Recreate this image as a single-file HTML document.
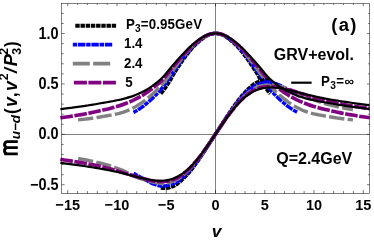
<!DOCTYPE html><html><head><meta charset="utf-8"><style>html,body{margin:0;padding:0;background:#fff}svg{display:block}text{font-family:"Liberation Sans",sans-serif;fill:#000}</style></head><body>
<svg width="374" height="242" viewBox="0 0 374 242">
<rect width="374" height="242" fill="#fff"/>
<g opacity="0.996" style="will-change:transform">
<g stroke="#000" stroke-width="0.5" fill="none">
<line x1="61.5" y1="134.5" x2="369.5" y2="134.5"/>
<line x1="215.5" y1="3.5" x2="215.5" y2="193.5"/>
</g>
<clipPath id="c"><rect x="59.5" y="3.5" width="310.0" height="190.0"/></clipPath>
<g clip-path="url(#c)" fill="none" stroke-linecap="butt" stroke-linejoin="round">
<path d="M160.83 93.71C161.06 93.45 161.74 92.70 162.20 92.16C162.65 91.62 163.11 91.07 163.57 90.47C164.02 89.86 164.48 89.21 164.93 88.55C165.39 87.89 165.84 87.18 166.30 86.49C166.75 85.79 167.21 85.07 167.67 84.36C168.12 83.66 168.58 82.97 169.03 82.25C169.49 81.53 169.94 80.84 170.40 80.05C170.85 79.27 171.31 78.37 171.77 77.54C172.22 76.70 172.68 75.82 173.13 75.02C173.59 74.22 174.04 73.49 174.50 72.76C174.95 72.03 175.41 71.33 175.87 70.62C176.32 69.91 176.78 69.22 177.23 68.52C177.69 67.82 178.14 67.13 178.60 66.44C179.06 65.76 179.51 65.07 179.97 64.39C180.42 63.72 180.88 63.05 181.33 62.38C181.79 61.71 182.24 61.05 182.70 60.40C183.16 59.75 183.61 59.10 184.07 58.47C184.52 57.84 184.98 57.21 185.43 56.60C185.89 55.99 186.34 55.39 186.80 54.80C187.26 54.20 187.71 53.62 188.17 53.04C188.62 52.47 189.08 51.90 189.53 51.35C189.99 50.79 190.44 50.24 190.90 49.71C191.36 49.17 191.81 48.64 192.27 48.13C192.72 47.62 193.18 47.13 193.63 46.65C194.09 46.17 194.54 45.71 195.00 45.26C195.46 44.81 195.91 44.38 196.37 43.96C196.82 43.53 197.28 43.12 197.73 42.71C198.19 42.30 198.64 41.89 199.10 41.49C199.56 41.09 200.01 40.69 200.47 40.31C200.92 39.93 201.38 39.56 201.83 39.20C202.29 38.85 202.74 38.50 203.20 38.17C203.66 37.85 204.11 37.53 204.57 37.23C205.02 36.94 205.48 36.65 205.93 36.39C206.39 36.12 206.84 35.87 207.30 35.63C207.76 35.40 208.21 35.18 208.67 34.98C209.12 34.78 209.58 34.59 210.03 34.43C210.49 34.26 210.94 34.11 211.40 33.98C211.86 33.85 212.31 33.74 212.77 33.64C213.22 33.55 213.68 33.47 214.13 33.41C214.59 33.36 215.04 33.30 215.50 33.30C215.96 33.30 216.41 33.36 216.87 33.41C217.32 33.47 217.78 33.55 218.23 33.64C218.69 33.74 219.14 33.85 219.60 33.98C220.06 34.11 220.51 34.26 220.97 34.43C221.42 34.59 221.88 34.78 222.33 34.98C222.79 35.18 223.24 35.40 223.70 35.63C224.16 35.87 224.61 36.12 225.07 36.39C225.52 36.65 225.98 36.94 226.43 37.23C226.89 37.53 227.34 37.85 227.80 38.17C228.26 38.50 228.71 38.85 229.17 39.20C229.62 39.56 230.08 39.93 230.53 40.31C230.99 40.69 231.44 41.09 231.90 41.49C232.36 41.89 232.81 42.30 233.27 42.71C233.72 43.12 234.18 43.53 234.63 43.96C235.09 44.38 235.54 44.81 236.00 45.26C236.46 45.71 236.91 46.17 237.37 46.65C237.82 47.13 238.28 47.62 238.73 48.13C239.19 48.64 239.64 49.17 240.10 49.71C240.56 50.24 241.01 50.79 241.47 51.35C241.92 51.90 242.38 52.47 242.83 53.04C243.29 53.62 243.74 54.20 244.20 54.80C244.66 55.39 245.11 55.99 245.57 56.60C246.02 57.21 246.48 57.84 246.93 58.47C247.39 59.10 247.84 59.75 248.30 60.40C248.76 61.05 249.21 61.71 249.67 62.38C250.12 63.05 250.58 63.72 251.03 64.39C251.49 65.07 251.94 65.76 252.40 66.44C252.86 67.13 253.31 67.82 253.77 68.52C254.22 69.22 254.68 69.91 255.13 70.62C255.59 71.33 256.05 72.03 256.50 72.76C256.96 73.49 257.41 74.22 257.87 75.02C258.32 75.82 258.78 76.70 259.23 77.54C259.69 78.37 260.15 79.27 260.60 80.05C261.06 80.84 261.51 81.53 261.97 82.25C262.42 82.97 262.88 83.66 263.33 84.36C263.79 85.07 264.25 85.79 264.70 86.49C265.16 87.18 265.61 87.89 266.07 88.55C266.52 89.21 266.98 89.86 267.43 90.47C267.89 91.07 268.35 91.62 268.80 92.16C269.26 92.70 269.94 93.45 270.17 93.71" stroke="#000000" stroke-width="3.6" stroke-dasharray="4.4 0.8"/>
<path d="M133.55 112.46C133.89 112.27 134.91 111.73 135.60 111.34C136.28 110.95 136.96 110.55 137.65 110.13C138.33 109.70 139.01 109.26 139.69 108.80C140.38 108.34 141.06 107.85 141.74 107.36C142.43 106.86 143.11 106.34 143.79 105.81C144.47 105.28 145.16 104.74 145.84 104.18C146.52 103.62 147.21 103.04 147.89 102.45C148.57 101.86 149.26 101.25 149.94 100.63C150.62 100.01 151.30 99.38 151.99 98.73C152.67 98.09 153.35 97.42 154.04 96.75C154.72 96.07 155.40 95.38 156.08 94.68C156.77 93.98 157.45 93.26 158.13 92.53C158.82 91.80 159.50 91.05 160.18 90.29C160.87 89.53 161.55 88.80 162.23 87.97C162.91 87.15 163.60 86.28 164.28 85.34C164.96 84.40 165.65 83.34 166.33 82.33C167.01 81.31 167.69 80.27 168.38 79.25C169.06 78.24 169.74 77.27 170.43 76.25C171.11 75.24 171.79 74.18 172.48 73.16C173.16 72.14 173.84 71.12 174.52 70.14C175.21 69.16 175.89 68.22 176.57 67.26C177.26 66.30 177.94 65.33 178.62 64.37C179.30 63.41 179.99 62.44 180.67 61.49C181.35 60.54 182.04 59.58 182.72 58.66C183.40 57.73 184.09 56.81 184.77 55.92C185.45 55.03 186.13 54.18 186.82 53.33C187.50 52.49 188.18 51.65 188.87 50.84C189.55 50.03 190.23 49.23 190.91 48.46C191.60 47.69 192.28 46.93 192.96 46.22C193.65 45.51 194.33 44.84 195.01 44.20C195.69 43.56 196.38 42.98 197.06 42.39C197.74 41.80 198.43 41.23 199.11 40.67C199.79 40.12 200.48 39.56 201.16 39.04C201.84 38.53 202.52 38.04 203.21 37.58C203.89 37.13 204.57 36.70 205.26 36.32C205.94 35.93 206.62 35.57 207.30 35.25C207.99 34.94 208.67 34.65 209.35 34.41C210.04 34.17 210.72 33.96 211.40 33.80C212.09 33.63 212.77 33.51 213.45 33.43C214.13 33.34 214.82 33.30 215.50 33.30C216.18 33.30 216.87 33.34 217.55 33.43C218.23 33.51 218.91 33.63 219.60 33.80C220.28 33.96 220.96 34.17 221.65 34.41C222.33 34.65 223.01 34.94 223.70 35.25C224.38 35.57 225.06 35.93 225.74 36.32C226.43 36.70 227.11 37.13 227.79 37.58C228.48 38.04 229.16 38.53 229.84 39.04C230.52 39.56 231.21 40.12 231.89 40.67C232.57 41.23 233.26 41.80 233.94 42.39C234.62 42.98 235.31 43.56 235.99 44.20C236.67 44.84 237.35 45.51 238.04 46.22C238.72 46.93 239.40 47.69 240.09 48.46C240.77 49.23 241.45 50.03 242.13 50.84C242.82 51.65 243.50 52.49 244.18 53.33C244.87 54.18 245.55 55.03 246.23 55.92C246.91 56.81 247.60 57.73 248.28 58.66C248.96 59.58 249.65 60.54 250.33 61.49C251.01 62.44 251.70 63.41 252.38 64.37C253.06 65.33 253.74 66.30 254.43 67.26C255.11 68.22 255.79 69.16 256.48 70.14C257.16 71.12 257.84 72.14 258.52 73.16C259.21 74.18 259.89 75.24 260.57 76.25C261.26 77.27 261.94 78.24 262.62 79.25C263.31 80.27 263.99 81.31 264.67 82.33C265.35 83.34 266.04 84.40 266.72 85.34C267.40 86.28 268.09 87.15 268.77 87.97C269.45 88.80 270.13 89.53 270.82 90.29C271.50 91.05 272.18 91.80 272.87 92.53C273.55 93.26 274.23 93.98 274.92 94.68C275.60 95.38 276.28 96.07 276.96 96.75C277.65 97.42 278.33 98.09 279.01 98.73C279.70 99.38 280.38 100.01 281.06 100.63C281.74 101.25 282.43 101.86 283.11 102.45C283.79 103.04 284.48 103.62 285.16 104.18C285.84 104.74 286.53 105.28 287.21 105.81C287.89 106.34 288.57 106.86 289.26 107.36C289.94 107.85 290.62 108.34 291.31 108.80C291.99 109.26 292.67 109.70 293.35 110.13C294.04 110.55 294.72 110.95 295.40 111.34C296.09 111.73 297.11 112.27 297.45 112.46" stroke="#0000ff" stroke-width="3.5" stroke-dasharray="4.4 0.8 7.4 0.8"/>
<path d="M78.09 119.89C78.67 119.83 80.38 119.66 81.53 119.54C82.67 119.41 83.82 119.29 84.96 119.15C86.11 119.02 87.25 118.88 88.40 118.73C89.54 118.58 90.69 118.43 91.83 118.27C92.98 118.11 94.12 117.94 95.27 117.76C96.41 117.58 97.56 117.39 98.70 117.20C99.85 117.02 100.99 116.83 102.14 116.63C103.28 116.44 104.43 116.25 105.57 116.05C106.72 115.85 107.86 115.65 109.01 115.45C110.15 115.24 111.30 115.02 112.44 114.80C113.59 114.58 114.73 114.35 115.88 114.12C117.02 113.88 118.17 113.68 119.31 113.39C120.46 113.11 121.60 112.79 122.75 112.41C123.90 112.03 125.04 111.59 126.19 111.14C127.33 110.69 128.48 110.22 129.62 109.70C130.77 109.18 131.91 108.63 133.06 108.03C134.20 107.43 135.35 106.79 136.49 106.11C137.64 105.42 138.78 104.70 139.93 103.94C141.07 103.18 142.22 102.38 143.36 101.55C144.51 100.71 145.65 99.85 146.80 98.95C147.94 98.05 149.09 97.13 150.23 96.15C151.38 95.18 152.52 94.18 153.67 93.11C154.81 92.03 155.96 90.89 157.10 89.72C158.25 88.56 159.39 87.36 160.54 86.13C161.68 84.91 162.83 83.77 163.97 82.39C165.12 81.01 166.26 79.37 167.41 77.86C168.55 76.35 169.70 74.86 170.84 73.32C171.99 71.77 173.13 70.14 174.28 68.60C175.42 67.06 176.57 65.60 177.71 64.08C178.86 62.57 180.00 61.01 181.15 59.51C182.29 58.01 183.44 56.49 184.58 55.07C185.73 53.65 186.87 52.31 188.02 50.99C189.16 49.67 190.31 48.37 191.45 47.16C192.60 45.96 193.74 44.83 194.89 43.78C196.03 42.74 197.18 41.83 198.32 40.92C199.47 40.00 200.61 39.10 201.76 38.31C202.90 37.52 204.05 36.79 205.19 36.18C206.34 35.56 207.48 35.02 208.63 34.60C209.77 34.17 210.92 33.85 212.06 33.63C213.21 33.41 214.35 33.30 215.50 33.30C216.65 33.30 217.79 33.41 218.94 33.63C220.08 33.85 221.23 34.17 222.37 34.60C223.52 35.02 224.66 35.56 225.81 36.18C226.95 36.79 228.10 37.52 229.24 38.31C230.39 39.10 231.53 40.00 232.68 40.92C233.82 41.83 234.97 42.74 236.11 43.78C237.26 44.83 238.40 45.96 239.55 47.16C240.69 48.37 241.84 49.67 242.98 50.99C244.13 52.31 245.27 53.65 246.42 55.07C247.56 56.49 248.71 58.01 249.85 59.51C251.00 61.01 252.14 62.57 253.29 64.08C254.43 65.60 255.58 67.06 256.72 68.60C257.87 70.14 259.01 71.77 260.16 73.32C261.30 74.86 262.45 76.35 263.59 77.86C264.74 79.37 265.88 81.01 267.03 82.39C268.17 83.77 269.32 84.91 270.46 86.13C271.61 87.36 272.75 88.56 273.90 89.72C275.04 90.89 276.19 92.03 277.33 93.11C278.48 94.18 279.62 95.18 280.77 96.15C281.91 97.13 283.06 98.05 284.20 98.95C285.35 99.85 286.49 100.71 287.64 101.55C288.78 102.38 289.93 103.18 291.07 103.94C292.22 104.70 293.36 105.42 294.51 106.11C295.65 106.79 296.80 107.43 297.94 108.03C299.09 108.63 300.23 109.18 301.38 109.70C302.52 110.22 303.67 110.69 304.81 111.14C305.96 111.59 307.11 112.03 308.25 112.41C309.40 112.79 310.54 113.11 311.69 113.39C312.83 113.68 313.98 113.88 315.12 114.12C316.27 114.35 317.41 114.58 318.56 114.80C319.70 115.02 320.85 115.24 321.99 115.45C323.14 115.65 324.28 115.85 325.43 116.05C326.57 116.25 327.72 116.44 328.86 116.63C330.01 116.83 331.15 117.02 332.30 117.20C333.44 117.39 334.59 117.58 335.73 117.76C336.88 117.94 338.02 118.11 339.17 118.27C340.31 118.43 341.46 118.58 342.60 118.73C343.75 118.88 344.89 119.02 346.04 119.15C347.18 119.29 348.33 119.41 349.47 119.54C350.62 119.66 352.33 119.83 352.91 119.89" stroke="#808080" stroke-width="3.4" stroke-dasharray="15.3 3.3"/>
<path d="M60.36 117.83C61.01 117.75 62.95 117.49 64.24 117.31C65.53 117.13 66.83 116.94 68.12 116.75C69.41 116.55 70.71 116.36 72.00 116.15C73.29 115.95 74.58 115.74 75.88 115.52C77.17 115.31 78.46 115.08 79.75 114.86C81.05 114.63 82.34 114.39 83.63 114.15C84.93 113.91 86.22 113.66 87.51 113.41C88.80 113.16 90.10 112.89 91.39 112.62C92.68 112.35 93.98 112.07 95.27 111.79C96.56 111.50 97.85 111.20 99.15 110.91C100.44 110.61 101.73 110.32 103.03 110.03C104.32 109.73 105.61 109.44 106.90 109.13C108.20 108.82 109.49 108.51 110.78 108.17C112.07 107.83 113.37 107.48 114.66 107.12C115.95 106.76 117.25 106.40 118.54 106.00C119.83 105.60 121.12 105.18 122.42 104.72C123.71 104.27 125.00 103.78 126.30 103.27C127.59 102.76 128.88 102.23 130.17 101.67C131.47 101.11 132.76 100.52 134.05 99.90C135.35 99.28 136.64 98.62 137.93 97.93C139.22 97.24 140.52 96.51 141.81 95.74C143.10 94.98 144.40 94.17 145.69 93.32C146.98 92.47 148.27 91.58 149.57 90.65C150.86 89.71 152.15 88.73 153.44 87.71C154.74 86.68 156.03 85.61 157.32 84.50C158.62 83.38 159.91 82.29 161.20 81.02C162.49 79.75 163.79 78.38 165.08 76.87C166.37 75.35 167.67 73.57 168.96 71.93C170.25 70.30 171.54 68.63 172.84 67.07C174.13 65.50 175.42 64.02 176.72 62.53C178.01 61.03 179.30 59.55 180.59 58.07C181.89 56.59 183.18 55.08 184.47 53.66C185.77 52.23 187.06 50.84 188.35 49.51C189.64 48.19 190.94 46.88 192.23 45.69C193.52 44.49 194.81 43.39 196.11 42.34C197.40 41.29 198.69 40.30 199.99 39.38C201.28 38.46 202.57 37.58 203.86 36.84C205.16 36.10 206.45 35.46 207.74 34.95C209.04 34.43 210.33 34.03 211.62 33.75C212.91 33.48 214.21 33.30 215.50 33.30C216.79 33.30 218.09 33.48 219.38 33.75C220.67 34.03 221.96 34.43 223.26 34.95C224.55 35.46 225.84 36.10 227.14 36.84C228.43 37.58 229.72 38.46 231.01 39.38C232.31 40.30 233.60 41.29 234.89 42.34C236.19 43.39 237.48 44.49 238.77 45.69C240.06 46.88 241.36 48.19 242.65 49.51C243.94 50.84 245.23 52.23 246.53 53.66C247.82 55.08 249.11 56.59 250.41 58.07C251.70 59.55 252.99 61.03 254.28 62.53C255.58 64.02 256.87 65.50 258.16 67.07C259.46 68.63 260.75 70.30 262.04 71.93C263.33 73.57 264.63 75.35 265.92 76.87C267.21 78.38 268.51 79.75 269.80 81.02C271.09 82.29 272.38 83.38 273.68 84.50C274.97 85.61 276.26 86.68 277.56 87.71C278.85 88.73 280.14 89.71 281.43 90.65C282.73 91.58 284.02 92.47 285.31 93.32C286.60 94.17 287.90 94.98 289.19 95.74C290.48 96.51 291.78 97.24 293.07 97.93C294.36 98.62 295.65 99.28 296.95 99.90C298.24 100.52 299.53 101.11 300.83 101.67C302.12 102.23 303.41 102.76 304.70 103.27C306.00 103.78 307.29 104.27 308.58 104.72C309.88 105.18 311.17 105.60 312.46 106.00C313.75 106.40 315.05 106.76 316.34 107.12C317.63 107.48 318.92 107.83 320.22 108.17C321.51 108.51 322.80 108.82 324.10 109.13C325.39 109.44 326.68 109.73 327.97 110.03C329.27 110.32 330.56 110.61 331.85 110.91C333.15 111.20 334.44 111.50 335.73 111.79C337.02 112.07 338.32 112.35 339.61 112.62C340.90 112.89 342.20 113.16 343.49 113.41C344.78 113.66 346.07 113.91 347.37 114.15C348.66 114.39 349.95 114.63 351.25 114.86C352.54 115.08 353.83 115.31 355.12 115.52C356.42 115.74 357.71 115.95 359.00 116.15C360.30 116.36 361.59 116.55 362.88 116.75C364.17 116.94 365.47 117.13 366.76 117.31C368.05 117.49 369.99 117.75 370.64 117.83" stroke="#800080" stroke-width="3.6" stroke-dasharray="12.6 1.6"/>
<path d="M160.83 187.95C161.06 187.98 161.74 188.07 162.20 188.12C162.65 188.16 163.11 188.19 163.57 188.22C164.02 188.24 164.48 188.27 164.93 188.27C165.39 188.27 165.84 188.27 166.30 188.24C166.75 188.21 167.21 188.17 167.67 188.09C168.12 188.02 168.58 187.92 169.03 187.80C169.49 187.68 169.94 187.55 170.40 187.39C170.85 187.24 171.31 187.07 171.77 186.89C172.22 186.70 172.68 186.50 173.13 186.29C173.59 186.09 174.04 185.87 174.50 185.63C174.95 185.39 175.41 185.13 175.87 184.85C176.32 184.57 176.78 184.27 177.23 183.95C177.69 183.63 178.14 183.29 178.60 182.93C179.06 182.57 179.51 182.20 179.97 181.81C180.42 181.42 180.88 181.02 181.33 180.60C181.79 180.19 182.24 179.76 182.70 179.32C183.16 178.88 183.61 178.43 184.07 177.97C184.52 177.51 184.98 177.04 185.43 176.57C185.89 176.09 186.34 175.61 186.80 175.12C187.26 174.62 187.71 174.11 188.17 173.59C188.62 173.07 189.08 172.54 189.53 172.00C189.99 171.45 190.44 170.90 190.90 170.33C191.36 169.76 191.81 169.19 192.27 168.60C192.72 168.02 193.18 167.42 193.63 166.82C194.09 166.22 194.54 165.61 195.00 164.99C195.46 164.37 195.91 163.75 196.37 163.12C196.82 162.48 197.28 161.83 197.73 161.18C198.19 160.52 198.64 159.86 199.10 159.19C199.56 158.52 200.01 157.84 200.47 157.15C200.92 156.47 201.38 155.78 201.83 155.09C202.29 154.40 202.74 153.70 203.20 153.01C203.66 152.31 204.11 151.61 204.57 150.92C205.02 150.23 205.48 149.54 205.93 148.84C206.39 148.15 206.84 147.45 207.30 146.75C207.76 146.05 208.21 145.35 208.67 144.65C209.12 143.94 209.58 143.23 210.03 142.53C210.49 141.82 210.94 141.11 211.40 140.40C211.86 139.70 212.31 138.99 212.77 138.29C213.22 137.58 213.68 136.88 214.13 136.18C214.59 135.48 215.04 134.79 215.50 134.10C215.96 133.41 216.41 132.72 216.87 132.02C217.32 131.32 217.78 130.62 218.23 129.91C218.69 129.21 219.14 128.50 219.60 127.80C220.06 127.09 220.51 126.38 220.97 125.67C221.42 124.97 221.88 124.26 222.33 123.55C222.79 122.85 223.24 122.15 223.70 121.45C224.16 120.75 224.61 120.05 225.07 119.36C225.52 118.66 225.98 117.97 226.43 117.28C226.89 116.59 227.34 115.89 227.80 115.19C228.26 114.50 228.71 113.80 229.17 113.11C229.62 112.42 230.08 111.73 230.53 111.05C230.99 110.36 231.44 109.68 231.90 109.01C232.36 108.34 232.81 107.68 233.27 107.02C233.72 106.37 234.18 105.72 234.63 105.08C235.09 104.45 235.54 103.83 236.00 103.21C236.46 102.59 236.91 101.98 237.37 101.38C237.82 100.78 238.28 100.18 238.73 99.60C239.19 99.01 239.64 98.44 240.10 97.87C240.56 97.30 241.01 96.75 241.47 96.20C241.92 95.66 242.38 95.13 242.83 94.61C243.29 94.09 243.74 93.58 244.20 93.08C244.66 92.59 245.11 92.11 245.57 91.63C246.02 91.16 246.48 90.69 246.93 90.23C247.39 89.77 247.84 89.32 248.30 88.88C248.76 88.44 249.21 88.01 249.67 87.60C250.12 87.18 250.58 86.78 251.03 86.39C251.49 86.00 251.94 85.63 252.40 85.27C252.86 84.91 253.31 84.57 253.77 84.25C254.22 83.93 254.68 83.63 255.13 83.35C255.59 83.07 256.05 82.81 256.50 82.57C256.96 82.33 257.41 82.11 257.87 81.91C258.32 81.70 258.78 81.50 259.23 81.31C259.69 81.13 260.15 80.96 260.60 80.81C261.06 80.65 261.51 80.52 261.97 80.40C262.42 80.28 262.88 80.18 263.33 80.11C263.79 80.03 264.25 79.99 264.70 79.96C265.16 79.93 265.61 79.93 266.07 79.93C266.52 79.93 266.98 79.96 267.43 79.98C267.89 80.01 268.35 80.04 268.80 80.08C269.26 80.13 269.94 80.22 270.17 80.25" stroke="#000000" stroke-width="3.6" stroke-dasharray="4.4 0.8"/>
<path d="M133.55 173.40C133.89 173.58 134.91 174.11 135.60 174.48C136.28 174.84 136.96 175.21 137.65 175.57C138.33 175.94 139.01 176.31 139.69 176.68C140.38 177.05 141.06 177.42 141.74 177.79C142.43 178.16 143.11 178.53 143.79 178.91C144.47 179.29 145.16 179.69 145.84 180.07C146.52 180.46 147.21 180.86 147.89 181.23C148.57 181.61 149.26 181.99 149.94 182.33C150.62 182.68 151.30 183.02 151.99 183.32C152.67 183.62 153.35 183.88 154.04 184.14C154.72 184.40 155.40 184.67 156.08 184.90C156.77 185.14 157.45 185.38 158.13 185.57C158.82 185.75 159.50 185.92 160.18 186.01C160.87 186.11 161.55 186.14 162.23 186.13C162.91 186.13 163.60 186.05 164.28 185.99C164.96 185.92 165.65 185.84 166.33 185.73C167.01 185.63 167.69 185.50 168.38 185.36C169.06 185.21 169.74 185.05 170.43 184.86C171.11 184.67 171.79 184.46 172.48 184.20C173.16 183.94 173.84 183.63 174.52 183.29C175.21 182.94 175.89 182.56 176.57 182.14C177.26 181.73 177.94 181.28 178.62 180.81C179.30 180.34 179.99 179.84 180.67 179.31C181.35 178.79 182.04 178.24 182.72 177.65C183.40 177.06 184.09 176.43 184.77 175.76C185.45 175.10 186.13 174.40 186.82 173.67C187.50 172.94 188.18 172.18 188.87 171.41C189.55 170.63 190.23 169.82 190.91 169.00C191.60 168.18 192.28 167.34 192.96 166.49C193.65 165.64 194.33 164.78 195.01 163.91C195.69 163.03 196.38 162.16 197.06 161.26C197.74 160.36 198.43 159.44 199.11 158.51C199.79 157.58 200.48 156.62 201.16 155.65C201.84 154.69 202.52 153.70 203.21 152.71C203.89 151.72 204.57 150.71 205.26 149.69C205.94 148.68 206.62 147.65 207.30 146.62C207.99 145.59 208.67 144.55 209.35 143.51C210.04 142.46 210.72 141.41 211.40 140.37C212.09 139.32 212.77 138.27 213.45 137.23C214.13 136.18 214.82 135.14 215.50 134.10C216.18 133.06 216.87 132.02 217.55 130.97C218.23 129.93 218.91 128.88 219.60 127.83C220.28 126.79 220.96 125.74 221.65 124.69C222.33 123.65 223.01 122.61 223.70 121.58C224.38 120.55 225.06 119.52 225.74 118.51C226.43 117.49 227.11 116.48 227.79 115.49C228.48 114.50 229.16 113.51 229.84 112.55C230.52 111.58 231.21 110.62 231.89 109.69C232.57 108.76 233.26 107.84 233.94 106.94C234.62 106.04 235.31 105.17 235.99 104.29C236.67 103.42 237.35 102.56 238.04 101.71C238.72 100.86 239.40 100.02 240.09 99.20C240.77 98.38 241.45 97.57 242.13 96.79C242.82 96.02 243.50 95.26 244.18 94.53C244.87 93.80 245.55 93.10 246.23 92.44C246.91 91.77 247.60 91.14 248.28 90.55C248.96 89.96 249.65 89.41 250.33 88.89C251.01 88.36 251.70 87.86 252.38 87.39C253.06 86.92 253.74 86.47 254.43 86.06C255.11 85.64 255.79 85.26 256.48 84.91C257.16 84.57 257.84 84.26 258.52 84.00C259.21 83.74 259.89 83.53 260.57 83.34C261.26 83.15 261.94 82.99 262.62 82.84C263.31 82.70 263.99 82.57 264.67 82.47C265.35 82.36 266.04 82.28 266.72 82.21C267.40 82.15 268.09 82.07 268.77 82.07C269.45 82.06 270.13 82.09 270.82 82.19C271.50 82.28 272.18 82.45 272.87 82.63C273.55 82.82 274.23 83.06 274.92 83.30C275.60 83.53 276.28 83.80 276.96 84.06C277.65 84.32 278.33 84.58 279.01 84.88C279.70 85.18 280.38 85.52 281.06 85.87C281.74 86.21 282.43 86.59 283.11 86.97C283.79 87.34 284.48 87.74 285.16 88.13C285.84 88.51 286.53 88.91 287.21 89.29C287.89 89.67 288.57 90.04 289.26 90.41C289.94 90.78 290.62 91.15 291.31 91.52C291.99 91.89 292.67 92.26 293.35 92.63C294.04 92.99 294.72 93.36 295.40 93.72C296.09 94.09 297.11 94.62 297.45 94.80" stroke="#0000ff" stroke-width="3.5" stroke-dasharray="4.4 0.8 7.4 0.8"/>
<path d="M78.09 158.48C78.67 158.57 80.38 158.86 81.53 159.07C82.67 159.27 83.82 159.48 84.96 159.70C86.11 159.92 87.25 160.14 88.40 160.37C89.54 160.60 90.69 160.83 91.83 161.08C92.98 161.33 94.12 161.58 95.27 161.84C96.41 162.11 97.56 162.38 98.70 162.66C99.85 162.94 100.99 163.23 102.14 163.53C103.28 163.83 104.43 164.13 105.57 164.46C106.72 164.78 107.86 165.11 109.01 165.46C110.15 165.81 111.30 166.17 112.44 166.55C113.59 166.94 114.73 167.33 115.88 167.74C117.02 168.15 118.17 168.57 119.31 169.02C120.46 169.47 121.60 169.93 122.75 170.42C123.90 170.91 125.04 171.39 126.19 171.96C127.33 172.53 128.48 173.23 129.62 173.86C130.77 174.48 131.91 175.17 133.06 175.71C134.20 176.25 135.35 176.65 136.49 177.09C137.64 177.52 138.78 177.93 139.93 178.33C141.07 178.72 142.22 179.09 143.36 179.46C144.51 179.82 145.65 180.17 146.80 180.51C147.94 180.85 149.09 181.18 150.23 181.47C151.38 181.77 152.52 182.06 153.67 182.29C154.81 182.53 155.96 182.74 157.10 182.89C158.25 183.04 159.39 183.16 160.54 183.20C161.68 183.25 162.83 183.24 163.97 183.17C165.12 183.10 166.26 182.99 167.41 182.80C168.55 182.61 169.70 182.38 170.84 182.04C171.99 181.71 173.13 181.29 174.28 180.78C175.42 180.28 176.57 179.67 177.71 179.00C178.86 178.33 180.00 177.58 181.15 176.75C182.29 175.92 183.44 175.02 184.58 174.02C185.73 173.02 186.87 171.93 188.02 170.78C189.16 169.62 190.31 168.38 191.45 167.10C192.60 165.83 193.74 164.48 194.89 163.10C196.03 161.72 197.18 160.31 198.32 158.83C199.47 157.35 200.61 155.82 201.76 154.25C202.90 152.68 204.05 151.05 205.19 149.41C206.34 147.77 207.48 146.08 208.63 144.39C209.77 142.70 210.92 140.97 212.06 139.26C213.21 137.54 214.35 135.82 215.50 134.10C216.65 132.38 217.79 130.66 218.94 128.94C220.08 127.23 221.23 125.50 222.37 123.81C223.52 122.12 224.66 120.43 225.81 118.79C226.95 117.15 228.10 115.52 229.24 113.95C230.39 112.38 231.53 110.85 232.68 109.37C233.82 107.89 234.97 106.48 236.11 105.10C237.26 103.72 238.40 102.37 239.55 101.10C240.69 99.82 241.84 98.58 242.98 97.42C244.13 96.27 245.27 95.18 246.42 94.18C247.56 93.18 248.71 92.28 249.85 91.45C251.00 90.62 252.14 89.87 253.29 89.20C254.43 88.53 255.58 87.92 256.72 87.42C257.87 86.91 259.01 86.49 260.16 86.16C261.30 85.82 262.45 85.59 263.59 85.40C264.74 85.21 265.88 85.10 267.03 85.03C268.17 84.96 269.32 84.95 270.46 85.00C271.61 85.04 272.75 85.16 273.90 85.31C275.04 85.46 276.19 85.67 277.33 85.91C278.48 86.14 279.62 86.43 280.77 86.73C281.91 87.02 283.06 87.35 284.20 87.69C285.35 88.03 286.49 88.38 287.64 88.74C288.78 89.11 289.93 89.48 291.07 89.87C292.22 90.27 293.36 90.68 294.51 91.11C295.65 91.55 296.80 91.95 297.94 92.49C299.09 93.03 300.23 93.72 301.38 94.34C302.52 94.97 303.67 95.67 304.81 96.24C305.96 96.81 307.11 97.29 308.25 97.78C309.40 98.27 310.54 98.73 311.69 99.18C312.83 99.63 313.98 100.05 315.12 100.46C316.27 100.87 317.41 101.26 318.56 101.65C319.70 102.03 320.85 102.39 321.99 102.74C323.14 103.09 324.28 103.42 325.43 103.74C326.57 104.07 327.72 104.37 328.86 104.67C330.01 104.97 331.15 105.26 332.30 105.54C333.44 105.82 334.59 106.09 335.73 106.36C336.88 106.62 338.02 106.87 339.17 107.12C340.31 107.37 341.46 107.60 342.60 107.83C343.75 108.06 344.89 108.28 346.04 108.50C347.18 108.72 348.33 108.93 349.47 109.13C350.62 109.34 352.33 109.63 352.91 109.72" stroke="#808080" stroke-width="3.4" stroke-dasharray="15.3 3.3"/>
<path d="M60.36 159.53C61.01 159.61 62.95 159.85 64.24 160.02C65.53 160.20 66.83 160.37 68.12 160.56C69.41 160.74 70.71 160.94 72.00 161.13C73.29 161.33 74.58 161.53 75.88 161.74C77.17 161.95 78.46 162.16 79.75 162.38C81.05 162.59 82.34 162.82 83.63 163.04C84.93 163.27 86.22 163.49 87.51 163.73C88.80 163.96 90.10 164.20 91.39 164.45C92.68 164.70 93.98 164.97 95.27 165.24C96.56 165.52 97.85 165.81 99.15 166.10C100.44 166.40 101.73 166.71 103.03 167.02C104.32 167.33 105.61 167.65 106.90 167.98C108.20 168.32 109.49 168.67 110.78 169.03C112.07 169.39 113.37 169.78 114.66 170.16C115.95 170.54 117.25 170.95 118.54 171.33C119.83 171.71 121.12 172.08 122.42 172.46C123.71 172.84 125.00 173.23 126.30 173.62C127.59 174.01 128.88 174.41 130.17 174.80C131.47 175.20 132.76 175.60 134.05 175.99C135.35 176.38 136.64 176.77 137.93 177.15C139.22 177.52 140.52 177.90 141.81 178.26C143.10 178.61 144.40 178.96 145.69 179.28C146.98 179.60 148.27 179.91 149.57 180.19C150.86 180.46 152.15 180.72 153.44 180.92C154.74 181.13 156.03 181.31 157.32 181.43C158.62 181.55 159.91 181.63 161.20 181.63C162.49 181.64 163.79 181.60 165.08 181.48C166.37 181.36 167.67 181.19 168.96 180.91C170.25 180.63 171.54 180.26 172.84 179.79C174.13 179.32 175.42 178.75 176.72 178.09C178.01 177.43 179.30 176.68 180.59 175.83C181.89 174.98 183.18 174.03 184.47 172.98C185.77 171.94 187.06 170.78 188.35 169.54C189.64 168.30 190.94 166.96 192.23 165.56C193.52 164.16 194.81 162.68 196.11 161.13C197.40 159.59 198.69 157.97 199.99 156.29C201.28 154.62 202.57 152.86 203.86 151.07C205.16 149.29 206.45 147.43 207.74 145.57C209.04 143.70 210.33 141.79 211.62 139.87C212.91 137.96 214.21 136.02 215.50 134.10C216.79 132.18 218.09 130.24 219.38 128.33C220.67 126.41 221.96 124.50 223.26 122.63C224.55 120.77 225.84 118.91 227.14 117.13C228.43 115.34 229.72 113.58 231.01 111.91C232.31 110.23 233.60 108.61 234.89 107.07C236.19 105.52 237.48 104.04 238.77 102.64C240.06 101.24 241.36 99.90 242.65 98.66C243.94 97.42 245.23 96.26 246.53 95.22C247.82 94.17 249.11 93.22 250.41 92.37C251.70 91.52 252.99 90.77 254.28 90.11C255.58 89.45 256.87 88.88 258.16 88.41C259.46 87.94 260.75 87.57 262.04 87.29C263.33 87.01 264.63 86.84 265.92 86.72C267.21 86.60 268.51 86.56 269.80 86.57C271.09 86.57 272.38 86.65 273.68 86.77C274.97 86.89 276.26 87.07 277.56 87.28C278.85 87.48 280.14 87.74 281.43 88.01C282.73 88.29 284.02 88.60 285.31 88.92C286.60 89.24 287.90 89.59 289.19 89.94C290.48 90.30 291.78 90.68 293.07 91.05C294.36 91.43 295.65 91.82 296.95 92.21C298.24 92.60 299.53 93.00 300.83 93.40C302.12 93.79 303.41 94.19 304.70 94.58C306.00 94.97 307.29 95.36 308.58 95.74C309.88 96.12 311.17 96.49 312.46 96.87C313.75 97.25 315.05 97.66 316.34 98.04C317.63 98.42 318.92 98.81 320.22 99.17C321.51 99.53 322.80 99.88 324.10 100.22C325.39 100.55 326.68 100.87 327.97 101.18C329.27 101.49 330.56 101.80 331.85 102.10C333.15 102.39 334.44 102.68 335.73 102.96C337.02 103.23 338.32 103.50 339.61 103.75C340.90 104.00 342.20 104.24 343.49 104.47C344.78 104.71 346.07 104.93 347.37 105.16C348.66 105.38 349.95 105.61 351.25 105.82C352.54 106.04 353.83 106.25 355.12 106.46C356.42 106.67 357.71 106.87 359.00 107.07C360.30 107.26 361.59 107.46 362.88 107.64C364.17 107.83 365.47 108.00 366.76 108.18C368.05 108.35 369.99 108.59 370.64 108.67" stroke="#800080" stroke-width="3.6" stroke-dasharray="12.6 1.6"/>
<path d="M60.36 109.13C61.01 109.05 62.95 108.83 64.24 108.67C65.53 108.52 66.83 108.37 68.12 108.21C69.41 108.05 70.71 107.89 72.00 107.72C73.29 107.55 74.58 107.39 75.88 107.21C77.17 107.04 78.46 106.86 79.75 106.67C81.05 106.49 82.34 106.30 83.63 106.11C84.93 105.91 86.22 105.72 87.51 105.51C88.80 105.31 90.10 105.10 91.39 104.89C92.68 104.67 93.98 104.45 95.27 104.23C96.56 104.00 97.85 103.77 99.15 103.54C100.44 103.32 101.73 103.10 103.03 102.88C104.32 102.66 105.61 102.45 106.90 102.22C108.20 101.99 109.49 101.76 110.78 101.52C112.07 101.28 113.37 101.02 114.66 100.76C115.95 100.50 117.25 100.24 118.54 99.96C119.83 99.68 121.12 99.39 122.42 99.08C123.71 98.77 125.00 98.44 126.30 98.08C127.59 97.72 128.88 97.33 130.17 96.92C131.47 96.51 132.76 96.08 134.05 95.61C135.35 95.14 136.64 94.64 137.93 94.10C139.22 93.55 140.52 92.97 141.81 92.32C143.10 91.68 144.40 90.98 145.69 90.23C146.98 89.48 148.27 88.67 149.57 87.82C150.86 86.97 152.15 86.06 153.44 85.11C154.74 84.16 156.03 83.15 157.32 82.10C158.62 81.04 159.91 80.01 161.20 78.78C162.49 77.56 163.79 76.22 165.08 74.74C166.37 73.26 167.67 71.49 168.96 69.90C170.25 68.30 171.54 66.68 172.84 65.17C174.13 63.65 175.42 62.25 176.72 60.82C178.01 59.39 179.30 58.00 180.59 56.60C181.89 55.20 183.18 53.78 184.47 52.43C185.77 51.09 187.06 49.78 188.35 48.53C189.64 47.28 190.94 46.06 192.23 44.93C193.52 43.80 194.81 42.75 196.11 41.75C197.40 40.75 198.69 39.81 199.99 38.94C201.28 38.07 202.57 37.23 203.86 36.53C205.16 35.84 206.45 35.23 207.74 34.76C209.04 34.28 210.33 33.91 211.62 33.67C212.91 33.42 214.21 33.30 215.50 33.30C216.79 33.30 218.09 33.42 219.38 33.67C220.67 33.91 221.96 34.28 223.26 34.76C224.55 35.23 225.84 35.84 227.14 36.53C228.43 37.23 229.72 38.07 231.01 38.94C232.31 39.81 233.60 40.75 234.89 41.75C236.19 42.75 237.48 43.80 238.77 44.93C240.06 46.06 241.36 47.28 242.65 48.53C243.94 49.78 245.23 51.09 246.53 52.43C247.82 53.78 249.11 55.20 250.41 56.60C251.70 58.00 252.99 59.39 254.28 60.82C255.58 62.25 256.87 63.65 258.16 65.17C259.46 66.68 260.75 68.30 262.04 69.90C263.33 71.49 264.63 73.26 265.92 74.74C267.21 76.22 268.51 77.56 269.80 78.78C271.09 80.01 272.38 81.04 273.68 82.10C274.97 83.15 276.26 84.16 277.56 85.11C278.85 86.06 280.14 86.97 281.43 87.82C282.73 88.67 284.02 89.48 285.31 90.23C286.60 90.98 287.90 91.68 289.19 92.32C290.48 92.97 291.78 93.55 293.07 94.10C294.36 94.64 295.65 95.14 296.95 95.61C298.24 96.08 299.53 96.51 300.83 96.92C302.12 97.33 303.41 97.72 304.70 98.08C306.00 98.44 307.29 98.77 308.58 99.08C309.88 99.39 311.17 99.68 312.46 99.96C313.75 100.24 315.05 100.50 316.34 100.76C317.63 101.02 318.92 101.28 320.22 101.52C321.51 101.76 322.80 101.99 324.10 102.22C325.39 102.45 326.68 102.66 327.97 102.88C329.27 103.10 330.56 103.32 331.85 103.54C333.15 103.77 334.44 104.00 335.73 104.23C337.02 104.45 338.32 104.67 339.61 104.89C340.90 105.10 342.20 105.31 343.49 105.51C344.78 105.72 346.07 105.91 347.37 106.11C348.66 106.30 349.95 106.49 351.25 106.67C352.54 106.86 353.83 107.04 355.12 107.21C356.42 107.39 357.71 107.55 359.00 107.72C360.30 107.89 361.59 108.05 362.88 108.21C364.17 108.37 365.47 108.52 366.76 108.67C368.05 108.83 369.99 109.05 370.64 109.13" stroke="#000" stroke-width="2.2"/>
<path d="M60.36 162.83C61.01 162.91 62.95 163.15 64.24 163.31C65.53 163.48 66.83 163.65 68.12 163.82C69.41 163.99 70.71 164.16 72.00 164.34C73.29 164.51 74.58 164.69 75.88 164.87C77.17 165.05 78.46 165.24 79.75 165.43C81.05 165.61 82.34 165.80 83.63 165.99C84.93 166.19 86.22 166.38 87.51 166.58C88.80 166.78 90.10 166.98 91.39 167.19C92.68 167.39 93.98 167.60 95.27 167.81C96.56 168.03 97.85 168.24 99.15 168.47C100.44 168.69 101.73 168.92 103.03 169.15C104.32 169.38 105.61 169.62 106.90 169.87C108.20 170.12 109.49 170.37 110.78 170.63C112.07 170.89 113.37 171.16 114.66 171.44C115.95 171.71 117.25 172.00 118.54 172.29C119.83 172.59 121.12 172.89 122.42 173.19C123.71 173.50 125.00 173.82 126.30 174.14C127.59 174.46 128.88 174.79 130.17 175.12C131.47 175.45 132.76 175.79 134.05 176.12C135.35 176.45 136.64 176.79 137.93 177.11C139.22 177.44 140.52 177.76 141.81 178.07C143.10 178.38 144.40 178.68 145.69 178.95C146.98 179.23 148.27 179.49 149.57 179.72C150.86 179.95 152.15 180.16 153.44 180.32C154.74 180.48 156.03 180.61 157.32 180.68C158.62 180.76 159.91 180.80 161.20 180.77C162.49 180.73 163.79 180.66 165.08 180.50C166.37 180.34 167.67 180.13 168.96 179.83C170.25 179.53 171.54 179.16 172.84 178.70C174.13 178.24 175.42 177.71 176.72 177.08C178.01 176.44 179.30 175.73 180.59 174.92C181.89 174.10 183.18 173.20 184.47 172.21C185.77 171.21 187.06 170.12 188.35 168.94C189.64 167.77 190.94 166.49 192.23 165.14C193.52 163.79 194.81 162.35 196.11 160.84C197.40 159.33 198.69 157.73 199.99 156.09C201.28 154.44 202.57 152.71 203.86 150.95C205.16 149.18 206.45 147.35 207.74 145.50C209.04 143.66 210.33 141.76 211.62 139.86C212.91 137.95 214.21 136.02 215.50 134.10C216.79 132.18 218.09 130.25 219.38 128.34C220.67 126.44 221.96 124.54 223.26 122.70C224.55 120.85 225.84 119.02 227.14 117.25C228.43 115.49 229.72 113.76 231.01 112.11C232.31 110.47 233.60 108.87 234.89 107.36C236.19 105.85 237.48 104.41 238.77 103.06C240.06 101.71 241.36 100.43 242.65 99.26C243.94 98.08 245.23 96.99 246.53 95.99C247.82 95.00 249.11 94.10 250.41 93.28C251.70 92.47 252.99 91.76 254.28 91.12C255.58 90.49 256.87 89.96 258.16 89.50C259.46 89.04 260.75 88.67 262.04 88.37C263.33 88.07 264.63 87.86 265.92 87.70C267.21 87.54 268.51 87.47 269.80 87.43C271.09 87.40 272.38 87.44 273.68 87.52C274.97 87.59 276.26 87.72 277.56 87.88C278.85 88.04 280.14 88.25 281.43 88.48C282.73 88.71 284.02 88.97 285.31 89.25C286.60 89.52 287.90 89.82 289.19 90.13C290.48 90.44 291.78 90.76 293.07 91.09C294.36 91.41 295.65 91.75 296.95 92.08C298.24 92.41 299.53 92.75 300.83 93.08C302.12 93.41 303.41 93.74 304.70 94.06C306.00 94.38 307.29 94.70 308.58 95.01C309.88 95.31 311.17 95.61 312.46 95.91C313.75 96.20 315.05 96.49 316.34 96.76C317.63 97.04 318.92 97.31 320.22 97.57C321.51 97.83 322.80 98.08 324.10 98.33C325.39 98.58 326.68 98.82 327.97 99.05C329.27 99.28 330.56 99.51 331.85 99.73C333.15 99.96 334.44 100.17 335.73 100.39C337.02 100.60 338.32 100.81 339.61 101.01C340.90 101.22 342.20 101.42 343.49 101.62C344.78 101.82 346.07 102.01 347.37 102.21C348.66 102.40 349.95 102.59 351.25 102.77C352.54 102.96 353.83 103.15 355.12 103.33C356.42 103.51 357.71 103.69 359.00 103.86C360.30 104.04 361.59 104.21 362.88 104.38C364.17 104.55 365.47 104.72 366.76 104.89C368.05 105.05 369.99 105.29 370.64 105.37" stroke="#000" stroke-width="2.2"/>
</g>
<path d="M67.75 193.5v-3.4M67.75 3.5v2.7M77.60 193.5v-2.4M77.60 3.5v1.5M87.45 193.5v-2.4M87.45 3.5v1.5M97.30 193.5v-2.4M97.30 3.5v1.5M107.15 193.5v-2.4M107.15 3.5v1.5M117.00 193.5v-3.4M117.00 3.5v2.7M126.85 193.5v-2.4M126.85 3.5v1.5M136.70 193.5v-2.4M136.70 3.5v1.5M146.55 193.5v-2.4M146.55 3.5v1.5M156.40 193.5v-2.4M156.40 3.5v1.5M166.25 193.5v-3.4M166.25 3.5v2.7M176.10 193.5v-2.4M176.10 3.5v1.5M185.95 193.5v-2.4M185.95 3.5v1.5M195.80 193.5v-2.4M195.80 3.5v1.5M205.65 193.5v-2.4M205.65 3.5v1.5M215.50 193.5v-3.4M215.50 3.5v2.7M225.35 193.5v-2.4M225.35 3.5v1.5M235.20 193.5v-2.4M235.20 3.5v1.5M245.05 193.5v-2.4M245.05 3.5v1.5M254.90 193.5v-2.4M254.90 3.5v1.5M264.75 193.5v-3.4M264.75 3.5v2.7M274.60 193.5v-2.4M274.60 3.5v1.5M284.45 193.5v-2.4M284.45 3.5v1.5M294.30 193.5v-2.4M294.30 3.5v1.5M304.15 193.5v-2.4M304.15 3.5v1.5M314.00 193.5v-3.4M314.00 3.5v2.7M323.85 193.5v-2.4M323.85 3.5v1.5M333.70 193.5v-2.4M333.70 3.5v1.5M343.55 193.5v-2.4M343.55 3.5v1.5M353.40 193.5v-2.4M353.40 3.5v1.5M363.25 193.5v-3.4M363.25 3.5v2.7M61.5 184.75h3.2M369.5 184.75h-2.6M61.5 174.67h2.2M369.5 174.67h-1.4M61.5 164.59h2.2M369.5 164.59h-1.4M61.5 154.51h2.2M369.5 154.51h-1.4M61.5 144.43h2.2M369.5 144.43h-1.4M61.5 134.35h3.2M369.5 134.35h-2.6M61.5 124.27h2.2M369.5 124.27h-1.4M61.5 114.19h2.2M369.5 114.19h-1.4M61.5 104.11h2.2M369.5 104.11h-1.4M61.5 94.03h2.2M369.5 94.03h-1.4M61.5 83.95h3.2M369.5 83.95h-2.6M61.5 73.87h2.2M369.5 73.87h-1.4M61.5 63.79h2.2M369.5 63.79h-1.4M61.5 53.71h2.2M369.5 53.71h-1.4M61.5 43.63h2.2M369.5 43.63h-1.4M61.5 33.55h3.2M369.5 33.55h-2.6M61.5 23.47h2.2M369.5 23.47h-1.4M61.5 13.39h2.2M369.5 13.39h-1.4" stroke="#000" stroke-width="0.55" fill="none"/>
<rect x="61.5" y="3.5" width="308.0" height="190.0" fill="none" stroke="#000" stroke-width="0.5"/>
<text transform="translate(67.75 209.70) scale(1 1.05)" font-size="14.5" font-weight="bold" text-anchor="middle">−15</text>
<text transform="translate(117.00 209.70) scale(1 1.05)" font-size="14.5" font-weight="bold" text-anchor="middle">−10</text>
<text transform="translate(166.25 209.70) scale(1 1.05)" font-size="14.5" font-weight="bold" text-anchor="middle">−5</text>
<text transform="translate(215.50 209.70) scale(1 1.05)" font-size="14.5" font-weight="bold" text-anchor="middle">0</text>
<text transform="translate(264.75 209.70) scale(1 1.05)" font-size="14.5" font-weight="bold" text-anchor="middle">5</text>
<text transform="translate(314.00 209.70) scale(1 1.05)" font-size="14.5" font-weight="bold" text-anchor="middle">10</text>
<text transform="translate(363.25 209.70) scale(1 1.05)" font-size="14.5" font-weight="bold" text-anchor="middle">15</text>
<text transform="translate(58.60 38.50) scale(1 1.08)" font-size="14.5" font-weight="bold" text-anchor="end">1.0</text>
<text transform="translate(58.60 88.90) scale(1 1.08)" font-size="14.5" font-weight="bold" text-anchor="end">0.5</text>
<text transform="translate(58.60 139.30) scale(1 1.08)" font-size="14.5" font-weight="bold" text-anchor="end">0.0</text>
<text transform="translate(58.60 189.70) scale(1 1.08)" font-size="14.5" font-weight="bold" text-anchor="end">−0.5</text>
<text transform="translate(216.50 236.90) scale(1 1.0)" font-size="17.4" font-weight="bold" text-anchor="middle" font-style="italic">v</text>
<line x1="75.3" y1="25.75" x2="116.4" y2="25.75" stroke="#000000" stroke-width="3.8" stroke-dasharray="4.4 0.8"/>
<line x1="72.8" y1="44.7" x2="112.7" y2="44.7" stroke="#0000ff" stroke-width="3.8" stroke-dasharray="4.4 0.8 7.4 0.8"/>
<line x1="72.8" y1="63.6" x2="110.4" y2="63.6" stroke="#808080" stroke-width="3.8" stroke-dasharray="17 3.4"/>
<line x1="73.9" y1="82.7" x2="116.0" y2="82.7" stroke="#800080" stroke-width="3.8" stroke-dasharray="13 1.5"/>
<text transform="translate(125.90 29.10) scale(1 1.05)" font-size="13.3" font-weight="bold" text-anchor="start" letter-spacing="0.15">P<tspan font-size="10.2" dy="2.6">3</tspan><tspan dy="-2.6">=0.95GeV</tspan></text>
<text transform="translate(124.00 47.90) scale(1 1.05)" font-size="13.3" font-weight="bold" text-anchor="start">1.4</text>
<text transform="translate(124.00 67.50) scale(1 1.05)" font-size="13.3" font-weight="bold" text-anchor="start">2.4</text>
<text transform="translate(125.30 86.80) scale(1 1.05)" font-size="13.3" font-weight="bold" text-anchor="start">5</text>
<text transform="translate(331.30 30.60) scale(1 1.02)" font-size="18.5" font-weight="bold" text-anchor="start" letter-spacing="1.3">(a)</text>
<text transform="translate(273.80 59.80) scale(1 1.02)" font-size="16" font-weight="bold" text-anchor="start">GRV+evol.</text>
<line x1="291.2" y1="82.7" x2="311.6" y2="82.7" stroke="#000" stroke-width="2.2"/>
<text transform="translate(321.00 86.40) scale(1 1.05)" font-size="13.3" font-weight="bold" text-anchor="start" letter-spacing="0.4">P<tspan font-size="10.2" dy="2.6">3</tspan><tspan dy="-2.6">=∞</tspan></text>
<text transform="translate(276.20 164.30) scale(1 1.02)" font-size="16" font-weight="bold" text-anchor="start">Q=2.4GeV</text>
<g transform="rotate(-90)" font-weight="bold">
<path d="M-153.9 17.8V4.2M-153.9 6.9C-152.6 3.7 -148.9 3.7 -147.6 6.9V17.8M-147.6 6.9C-146.3 3.7 -142.5 3.7 -141.6 7.2V17.8" stroke="#000" stroke-width="2.9" fill="none" stroke-linejoin="miter"/>
<text x="-139.3" y="20.2" font-size="13.5" font-style="italic">u−d</text>
<text transform="translate(-113.9 17.1) scale(1 1.12)" font-size="17">(</text>
<text x="-106.9" y="16.7" font-size="17.8" font-style="italic">v</text>
<text x="-97.2" y="16.7" font-size="17.8">,</text>
<text x="-91.1" y="16.7" font-size="17.8" font-style="italic">v</text>
<text x="-80.2" y="8.3" font-size="12.3">2</text>
<text x="-73.0" y="17.0" font-size="17.6" font-style="italic">/</text>
<text x="-66.3" y="16.7" font-size="18.2" font-style="italic">P</text>
<text x="-54.8" y="8.3" font-size="12.3">2</text>
<text x="-54.8" y="21.2" font-size="12.3">3</text>
<text transform="translate(-47.1 17.1) scale(1 1.12)" font-size="17">)</text>
</g>
</g>
</svg></body></html>
